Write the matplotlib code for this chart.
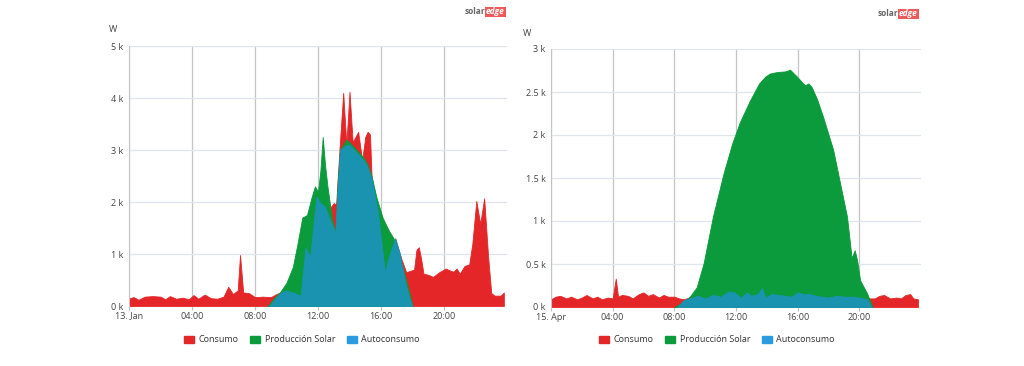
import matplotlib.pyplot as plt
from matplotlib.patches import Patch

plt.rcParams['font.family'] = ['Open Sans', 'DejaVu Sans']

# --- 13 Jan (left chart), hours / watts ---
jan_cons_h = [0, 0.3, 0.6, 1.0, 1.5, 2.0, 2.3, 2.6, 3.0, 3.4, 3.8, 4.1, 4.4, 4.8, 5.2, 5.6,
              6.0, 6.3, 6.6, 6.9, 7.05, 7.25, 7.6, 8.0, 8.5, 9.0, 9.3, 9.6, 10.0, 10.5, 10.9,
              11.2, 11.5, 11.9, 12.1, 12.5, 12.8, 13.0, 13.15, 13.35, 13.6, 13.8, 14.0, 14.2,
              14.55, 14.8, 15.0, 15.15, 15.3, 15.4, 15.8, 16.25, 16.9, 17.3, 17.6, 18.1, 18.25,
              18.4, 18.55, 18.7, 19.0, 19.3, 19.7, 20.1, 20.4, 20.6, 20.8, 21.0, 21.3, 21.6,
              21.8, 22.05, 22.3, 22.55, 22.8, 23.0, 23.2, 23.6, 23.8]
jan_cons_w = [150, 170, 120, 180, 190, 180, 130, 190, 140, 160, 130, 210, 140, 220, 150, 140,
              180, 370, 230, 300, 980, 260, 250, 170, 180, 170, 220, 260, 300, 250, 200,
              1120, 950, 2100, 2000, 1850, 1900, 1980, 1950, 2950, 4100, 3100, 4120, 3150,
              3350, 2800, 3250, 3350, 3300, 2500, 1800, 650, 1300, 900, 650, 700, 1080,
              1130, 900, 620, 600, 560, 650, 720, 680, 660, 720, 620, 770, 800,
              1200, 2020, 1580, 2070, 950, 250, 200, 200, 260]

jan_prod_h = [8.8, 9.2, 9.6, 10.0, 10.4, 10.7, 11.0, 11.3, 11.6, 11.8, 12.0, 12.15, 12.3, 12.45,
              12.6, 12.9, 13.1, 13.25, 13.4, 13.6, 13.8, 14.0, 14.3, 14.6, 14.9, 15.1, 15.4,
              15.7, 16.1, 16.5, 16.8, 17.1, 17.5, 17.8, 18.0]
jan_prod_w = [0, 150, 270, 450, 750, 1200, 1700, 1750, 2100, 2300, 2200, 2600, 3250, 2700,
              2300, 1650, 1400, 2400, 3000, 3100, 3200, 3150, 3050, 2950, 2850, 2750, 2500,
              2100, 1700, 1450, 1300, 1050, 600, 250, 0]

jan_self_h = [8.9, 9.3, 9.6, 10.0, 10.5, 10.9, 11.2, 11.5, 11.9, 12.1, 12.45, 12.7, 12.9, 13.1,
              13.25, 13.4, 13.6, 13.8, 14.0, 14.3, 14.6, 14.9, 15.1, 15.4, 15.8, 16.25, 16.5,
              16.9, 17.2, 17.5, 17.8, 18.0]
jan_self_w = [0, 150, 250, 300, 250, 200, 1120, 950, 2100, 2000, 1900, 1700, 1550, 1400,
              2300, 3000, 3050, 3100, 3100, 3000, 2900, 2800, 2700, 2450, 1800, 650, 950,
              1300, 1000, 500, 150, 0]

# --- 15 Apr (right chart) ---
apr_cons_h = [0, 0.3, 0.6, 1.0, 1.3, 1.7, 2.0, 2.3, 2.7, 3.0, 3.3, 3.7, 4.0, 4.2, 4.35, 4.6,
              5.0, 5.3, 5.7, 6.0, 6.3, 6.6, 7.0, 7.3, 7.6, 8.0, 8.3, 8.6, 9.0, 9.5, 10.0, 10.5,
              11.0, 11.5, 11.9, 12.3, 12.7, 13.0, 13.4, 13.7, 13.9, 14.3, 14.8, 15.2, 15.6,
              16.0, 16.4, 16.8, 17.2, 17.6, 18.0, 18.5, 19.0, 19.5, 20.0, 20.5, 21.0, 21.3,
              21.6, 22.0, 22.4, 22.7, 23.0, 23.3, 23.5, 23.8]
apr_cons_w = [90, 120, 130, 100, 120, 90, 110, 140, 100, 120, 90, 110, 100, 330, 120, 140,
              130, 100, 150, 170, 130, 150, 110, 140, 120, 120, 100, 90, 110, 130, 100, 140,
              120, 180, 170, 110, 170, 130, 150, 220, 110, 150, 140, 130, 120,
              170, 150, 150, 130, 120, 110, 130, 120, 120, 110, 100, 100, 130,
              140, 100, 110, 100, 140, 150, 100, 90]

apr_prod_h = [8.0, 8.5, 9.0, 9.45, 9.9, 10.5, 11.2, 11.75, 12.25, 12.9, 13.5, 13.9, 14.2, 14.6,
              14.85, 15.2, 15.5, 15.95, 16.35, 16.5, 16.7, 16.9, 17.25, 17.65, 18.3, 18.75,
              19.2, 19.5, 19.7, 19.85, 20.05, 20.5, 20.85]
apr_prod_w = [0, 50, 120, 230, 510, 1050, 1560, 1900, 2150, 2400, 2600, 2680, 2715, 2730,
              2735, 2740, 2760, 2680, 2600, 2580, 2600, 2560, 2420, 2210, 1830, 1440,
              1050, 570, 660, 550, 310, 160, 0]

apr_self_h = [8.2, 8.6, 9.0, 9.5, 10.0, 10.5, 11.0, 11.5, 11.9, 12.3, 12.7, 13.0, 13.4, 13.7,
              13.9, 14.3, 14.8, 15.2, 15.6, 16.0, 16.4, 16.8, 17.2, 17.6, 18.0, 18.5, 19.0,
              19.5, 20.0, 20.5, 20.8]
apr_self_w = [0, 80, 100, 130, 100, 140, 120, 180, 170, 110, 170, 130, 150, 220,
              110, 150, 140, 130, 120, 170, 150, 150, 130, 120, 110, 130, 120,
              120, 110, 90, 0]

series_names = ['Consumo', 'Producción Solar', 'Autoconsumo']
series_colors = ['#e42629', '#0b9a3c', '#1a93b1']
legend_colors = ['#e42629', '#0b9a3c', '#2a9be0']

x_ticks = [0, 4, 8, 12, 16, 20]
jan_xlabels = ['13. Jan', '04:00', '08:00', '12:00', '16:00', '20:00']
apr_xlabels = ['15. Apr', '04:00', '08:00', '12:00', '16:00', '20:00']
jan_yticks = [0, 1000, 2000, 3000, 4000, 5000]
jan_ylabels = ['0 k', '1 k', '2 k', '3 k', '4 k', '5 k']
apr_yticks = [0, 500, 1000, 1500, 2000, 2500, 3000]
apr_ylabels = ['0 k', '0.5 k', '1 k', '1.5 k', '2 k', '2.5 k', '3 k']

fig = plt.figure(figsize=(10.24, 3.66), dpi=100)
ax1 = fig.add_axes([129/1024, 1-306/366, (507-129)/1024, (306-46)/366])
ax2 = fig.add_axes([551/1024, 1-307/366, (921-551)/1024, (307-49)/366])


def draw(ax, data, yticks, ylabels, xlabels):
    for (h, w), c in zip(data, series_colors):
        ax.fill_between(h, w, 0, color=c, lw=0.6, edgecolor=c)
    ax.set_xlim(0, 24)
    ax.set_ylim(0, yticks[-1])
    ax.set_xticks(x_ticks)
    ax.set_xticklabels(xlabels)
    ax.set_yticks(yticks)
    ax.set_yticklabels(ylabels)
    ax.tick_params(axis='x', length=3, color='#c0c0c0', labelsize=6.5, labelcolor='#444444', pad=1)
    ax.tick_params(axis='y', length=0, labelsize=6.5, labelcolor='#444444', pad=4)
    ax.grid(axis='y', color='#dfe5ec', lw=0.9)
    ax.grid(axis='x', color='#c4c4c4', lw=0.9)
    ax.set_axisbelow(True)
    for s in ['top', 'right', 'bottom']:
        ax.spines[s].set_visible(False)
    ax.spines['left'].set_color('#c4c4c4')


draw(ax1, [(jan_cons_h, jan_cons_w), (jan_prod_h, jan_prod_w), (jan_self_h, jan_self_w)],
     jan_yticks, jan_ylabels, jan_xlabels)
draw(ax2, [(apr_cons_h, apr_cons_w), (apr_prod_h, apr_prod_w), (apr_self_h, apr_self_w)],
     apr_yticks, apr_ylabels, apr_xlabels)

handles = [Patch(facecolor=c, edgecolor=c) for c in legend_colors]
for cx in [302/1024, 717/1024]:
    fig.legend(handles, series_names, loc='center', bbox_to_anchor=(cx, 1-340/366), ncol=3,
               frameon=False, fontsize=6.5, handlelength=1.1, handleheight=0.9,
               handletextpad=0.5, columnspacing=1.3, labelcolor='#333333')

# axis unit labels
fig.text(113/1024, 1-30/366, 'W', fontsize=6.5, color='#444444', va='center', ha='center')
fig.text(527/1024, 1-33/366, 'W', fontsize=6.5, color='#444444', va='center', ha='center')

# solaredge logos
for lx, ly in [(485/1024, 1-12/366), (898/1024, 1-14/366)]:
    fig.text(lx, ly, 'solar', fontsize=6, color='#666666', fontweight='bold', ha='right', va='center')
    fig.text(lx + 0.001, ly, 'edge', fontsize=6, color='white', fontweight='bold', style='italic',
             ha='left', va='center',
             bbox=dict(facecolor='#ee5a5a', edgecolor='none', pad=0.6))

fig.savefig('out.png', dpi=100, facecolor='white')
